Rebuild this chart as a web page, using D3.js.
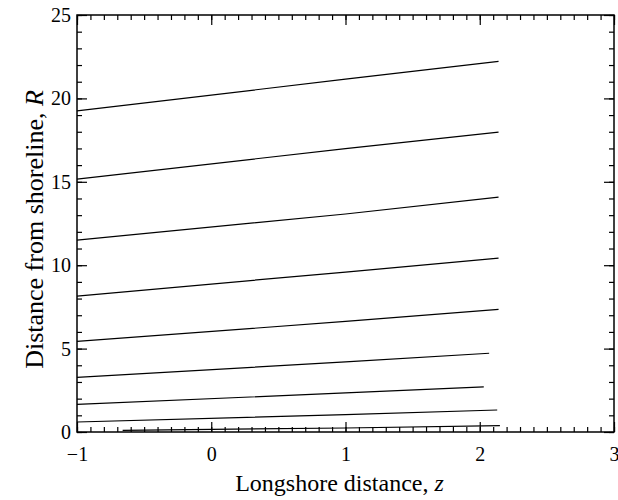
<!DOCTYPE html>
<html>
<head>
<meta charset="utf-8">
<script src="https://cdn.jsdelivr.net/npm/d3@7"></script>
<style>
  body { margin: 0; background: #fff; }
  svg { display: block; font-family: "Liberation Serif", "DejaVu Serif", serif; }
</style>
</head>
<body>
<svg id="chart" width="618" height="500"></svg>
<script>
// curves: longshore distance z -> distance from shoreline R
const zFull = [-1, 1, 2.14];
const curveZ = [
  zFull, zFull, zFull, zFull, zFull,
  [-1, 1, 2.07],
  [-1, 1, 2.03],
  [-1, 1, 2.13],
  [-0.66, 1, 2.15]
];
const curveR = [
  [19.25, 21.15, 22.22],
  [15.16, 16.99, 17.98],
  [11.5, 13.07, 14.08],
  [8.15, 9.59, 10.42],
  [5.43, 6.63, 7.35],
  [3.28, 4.2, 4.72],
  [1.66, 2.34, 2.7],
  [0.6, 1.04, 1.32],
  [0.1, 0.24, 0.38]
];
const xMajor = [-1, 0, 1, 2, 3];
const xTickLabels = ["\u22121", "0", "1", "2", "3"];
const yMajor = [0, 5, 10, 15, 20, 25];

const svg = d3.select("#chart");
const x0 = 77, x1 = 614, y0 = 15, y1 = 432;

const x = d3.scaleLinear().domain([-1, 3]).range([x0, x1]);
const y = d3.scaleLinear().domain([0, 25]).range([y1, y0]);

const xMinor = d3.range(-10, 31).map(d => d / 10);
const yMinor = d3.range(0, 26);

function styleAxis(g) {
  g.select(".domain").remove();
  g.selectAll("line").attr("stroke", "#000").attr("stroke-width", 1.2);
}

// minor ticks (inward) on all four sides
svg.append("g").attr("transform", `translate(0,${y1})`)
  .call(d3.axisBottom(x).tickValues(xMinor).tickSize(-5).tickFormat(""))
  .call(styleAxis);
svg.append("g").attr("transform", `translate(0,${y0})`)
  .call(d3.axisTop(x).tickValues(xMinor).tickSize(-5).tickFormat(""))
  .call(styleAxis);
svg.append("g").attr("transform", `translate(${x0},0)`)
  .call(d3.axisLeft(y).tickValues(yMinor).tickSize(-5).tickFormat(""))
  .call(styleAxis);
svg.append("g").attr("transform", `translate(${x1},0)`)
  .call(d3.axisRight(y).tickValues(yMinor).tickSize(-5).tickFormat(""))
  .call(styleAxis);

// major ticks
const xb = svg.append("g").attr("transform", `translate(0,${y1})`)
  .call(d3.axisBottom(x).tickValues(xMajor).tickSize(-10).tickPadding(15)
    .tickFormat((d, i) => xTickLabels[i]))
  .call(styleAxis);
svg.append("g").attr("transform", `translate(0,${y0})`)
  .call(d3.axisTop(x).tickValues(xMajor).tickSize(-10).tickFormat(""))
  .call(styleAxis);
const yl = svg.append("g").attr("transform", `translate(${x0},0)`)
  .call(d3.axisLeft(y).tickValues(yMajor).tickSize(-10).tickPadding(6))
  .call(styleAxis);
svg.append("g").attr("transform", `translate(${x1},0)`)
  .call(d3.axisRight(y).tickValues(yMajor).tickSize(-10).tickFormat(""))
  .call(styleAxis);

xb.selectAll("text").attr("font-family", "Liberation Serif").attr("font-size", 20).attr("fill", "#000");
yl.selectAll("text").attr("font-family", "Liberation Serif").attr("font-size", 20).attr("fill", "#000");

// frame
svg.append("rect")
  .attr("x", x0).attr("y", y0)
  .attr("width", x1 - x0).attr("height", y1 - y0)
  .attr("fill", "none").attr("stroke", "#000").attr("stroke-width", 1.5);

// curves
const line = d3.line().x(d => x(d[0])).y(d => y(d[1]));
svg.append("g").selectAll("path")
  .data(curveR.map((rs, i) => rs.map((r, j) => [curveZ[i][j], r])))
  .join("path")
  .attr("d", line)
  .attr("fill", "none")
  .attr("stroke", "#000")
  .attr("stroke-width", 1.2);

// axis titles
const xt = svg.append("text")
  .attr("x", (x0 + x1) / 2 - 6).attr("y", 491)
  .attr("text-anchor", "middle")
  .attr("font-size", 24);
xt.append("tspan").text("Longshore distance, ");
xt.append("tspan").attr("font-style", "italic").text("z");

const yt = svg.append("text")
  .attr("transform", `translate(43,${(y0 + y1) / 2 + 6}) rotate(-90)`)
  .attr("text-anchor", "middle")
  .attr("font-size", 26);
yt.append("tspan").text("Distance from shoreline, ");
yt.append("tspan").attr("font-style", "italic").text("R");
</script>
</body>
</html>
